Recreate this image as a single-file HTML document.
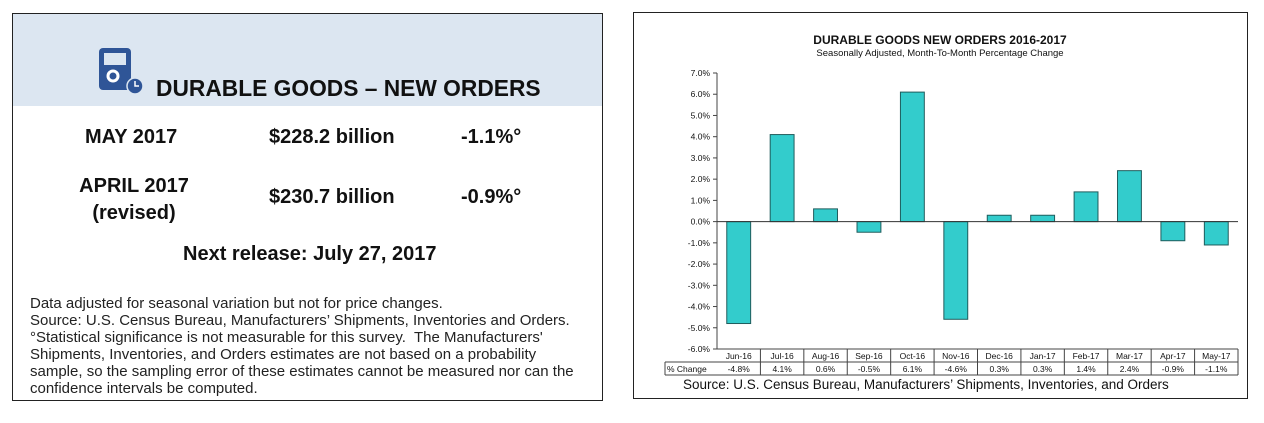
<!DOCTYPE html>
<html><head><meta charset="utf-8"><style>
body{margin:0;width:1264px;height:423px;background:#fff;position:relative;font-family:"Liberation Sans",sans-serif;overflow:hidden}
.abs{position:absolute}
#left{left:12px;top:13px;width:591px;height:388px;border:1px solid #222;box-sizing:border-box}
#hdr{left:0;top:0;width:589px;height:92px;background:#dce6f1}
.big{font-weight:bold;font-size:19px;color:#111;white-space:nowrap}
.note{font-size:15px;color:#222;line-height:17px;left:17px;top:281px;white-space:nowrap}
</style></head><body>
<div id="left" class="abs">
  <div id="hdr" class="abs"></div>
  <svg class="abs" style="left:84px;top:32px" width="50" height="50">
    <rect x="2" y="2" width="32" height="42" rx="4" fill="#2f5597"/>
    <rect x="7" y="7" width="22" height="12" fill="#dce6f1"/>
    <circle cx="16" cy="30" r="5" fill="none" stroke="#fff" stroke-width="3"/>
    <circle cx="38" cy="40" r="8" fill="#2f5597" stroke="#dce6f1" stroke-width="1.5"/>
    <path d="M38 35v5h4" stroke="#fff" stroke-width="1.5" fill="none"/>
  </svg>
  <div class="abs big" style="left:143px;top:61px;font-size:23px;transform:scaleX(0.99);transform-origin:left">DURABLE GOODS – NEW ORDERS</div>
  <div class="abs big" style="left:72px;top:112px;font-size:20px">MAY 2017</div>
  <div class="abs big" style="left:256px;top:112px;font-size:20px">$228.2 billion</div>
  <div class="abs big" style="left:448px;top:112px;font-size:20px">-1.1%°</div>
  <div class="abs big" style="left:61px;top:159px;text-align:center;width:120px;line-height:27px;font-size:20px">APRIL 2017<br>(revised)</div>
  <div class="abs big" style="left:256px;top:172px;font-size:20px">$230.7 billion</div>
  <div class="abs big" style="left:448px;top:172px;font-size:20px">-0.9%°</div>
  <div class="abs big" style="left:170px;top:229px;font-size:20px">Next release: July 27, 2017</div>
  <div class="abs note">Data adjusted for seasonal variation but not for price changes.<br>Source: U.S. Census Bureau, Manufacturers’ Shipments, Inventories and Orders.<br>°Statistical significance is not measurable for this survey.&nbsp; The Manufacturers'<br>Shipments, Inventories, and Orders estimates are not based on a probability<br>sample, so the sampling error of these estimates cannot be measured nor can the<br>confidence intervals be computed.</div>
</div>
<svg class="abs" style="left:0;top:0" width="1264" height="423" id="chart"></svg>
<script>
const categories=["Jun-16","Jul-16","Aug-16","Sep-16","Oct-16","Nov-16","Dec-16","Jan-17","Feb-17","Mar-17","Apr-17","May-17"];
const values=[-4.8,4.1,0.6,-0.5,6.1,-4.6,0.3,0.3,1.4,2.4,-0.9,-1.1];
const valueLabels=["-4.8%","4.1%","0.6%","-0.5%","6.1%","-4.6%","0.3%","0.3%","1.4%","2.4%","-0.9%","-1.1%"];
const yTicks=[7,6,5,4,3,2,1,0,-1,-2,-3,-4,-5,-6];
const NS="http://www.w3.org/2000/svg";
const svg=document.getElementById('chart');
const x0=717,x1=1238,yTop=73,yBot=349,vMax=7,vMin=-6;
const bw=(x1-x0)/categories.length;
const y=v=>yTop+(vMax-v)/(vMax-vMin)*(yBot-yTop);
const xc=i=>x0+bw*(i+0.5);
function mk(t,a,txt){const e=document.createElementNS(NS,t);for(const k in a)e.setAttribute(k,a[k]);if(txt!=null)e.textContent=txt;svg.appendChild(e);return e;}
let e;
e=mk('rect',{x:633.5,y:12.5,width:614,height:386,fill:'none',stroke:'#222'});

e=mk('text',{x:940,y:44,'text-anchor':'middle','font-size':12,'font-weight':'bold',fill:'#111'},'DURABLE GOODS NEW ORDERS 2016-2017');

e=mk('text',{x:940,y:56,'text-anchor':'middle','font-size':9.5,fill:'#111'},'Seasonally Adjusted,  Month-To-Month  Percentage  Change');

yTicks.forEach(t=>{
  e=mk('line',{x1:x0-4,x2:x0,y1:y(t),y2:y(t),stroke:'#444'});
  
  e=mk('text',{x:x0-7,y:y(t)+3,'text-anchor':'end','font-size':8.5,fill:'#111'},t.toFixed(1)+'%');
  
});
e=mk('line',{x1:x0,x2:x0,y1:yTop,y2:yBot,stroke:'#444'});

values.forEach((v,i)=>{
  const w=bw*0.55;
  e=mk('rect',{x:xc(i)-w/2,y:Math.min(y(v),y(0)),width:w,height:Math.abs(y(v)-y(0)),fill:'#33cccc',stroke:'#1f5c5c','stroke-width':1});
  
});
e=mk('line',{x1:x0,x2:x1,y1:y(0),y2:y(0),stroke:'#333'});

e=mk('line',{x1:x0,x2:x1,y1:yBot,y2:yBot,stroke:'#444'});

e=mk('line',{x1:665,x2:x1,y1:362,y2:362,stroke:'#444'});

e=mk('line',{x1:665,x2:x1,y1:375,y2:375,stroke:'#444'});

e=mk('line',{x1:665,x2:665,y1:362,y2:375,stroke:'#444'});

e=mk('text',{x:667,y:372,'font-size':8.5,fill:'#111'},'% Change');

categories.forEach((c,i)=>{
  e=mk('line',{x1:x0+bw*(i+1),x2:x0+bw*(i+1),y1:yBot,y2:375,stroke:'#444'});
  
  e=mk('text',{x:xc(i),y:359,'text-anchor':'middle','font-size':8.5,fill:'#111'},c);
  
  e=mk('text',{x:xc(i),y:372,'text-anchor':'middle','font-size':8.5,fill:'#111'},valueLabels[i]);
  
});
e=mk('text',{x:683,y:389,'font-size':13.5,fill:'#111'},'Source: U.S. Census Bureau, Manufacturers’ Shipments, Inventories, and Orders');

</script>
</body></html>
